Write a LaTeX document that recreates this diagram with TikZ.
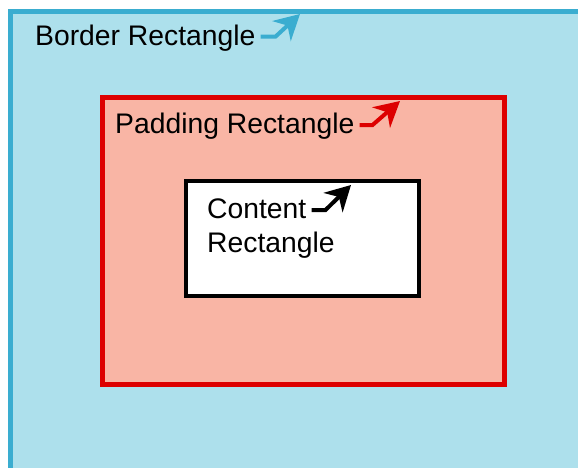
\documentclass[tikz,border=0pt]{standalone}
\usepackage{fontspec}
\setmainfont{Liberation Sans}
\usetikzlibrary{arrows.meta,positioning}
\definecolor{bordfond}{HTML}{ADE0EC}
\definecolor{bordtrait}{HTML}{3AADD0}
\definecolor{padfond}{HTML}{F9B5A5}
\definecolor{padtrait}{HTML}{DD0000}
\tikzset{
  lbl/.style={inner sep=0pt,font=\fontsize{28.3}{34}\selectfont,anchor=base west},
  fleche/.style={line width=4pt,-{Stealth[length=25pt,width=27pt,inset=8pt]}}
}
\begin{document}
\begin{tikzpicture}[x=1pt,y=-1pt]
                \useasboundingbox (0,0) rectangle (578,467);
                \clip (0,0) rectangle (578,467);
                \draw[line width=4.5pt,bordtrait,fill=bordfond] (10.5,11.5) rectangle (600,490);
                \draw[line width=5pt,padtrait,fill=padfond] (102.5,97.5) rectangle (504.5,384.5);
                \draw[line width=4pt,black,fill=white] (186,181) rectangle (419,296);
                \node[lbl] (bord) at (35,45) {Border Rectangle};
                \node[lbl] (pad) at (115,133) {Padding Rectangle};
                \node[lbl] (cont) at (207,218) {Content};
                \node[lbl] (rect) at (207,252) {Rectangle};
                \coordinate (bpointe) at (300,14);
                \coordinate (ppointe) at (400,101);
                \coordinate (cpointe) at (351,185);
                \draw[fleche,bordtrait] ([xshift=5pt,yshift=8.5pt]bord.base east) -- ++(15,0) -- (bpointe);
                \draw[fleche,padtrait] ([xshift=5pt,yshift=8pt]pad.base east) -- ++(13,0) -- (ppointe);
                \draw[fleche,black] ([xshift=5pt,yshift=8pt]cont.base east) -- ++(14,0) -- (cpointe);%Pour le contenu
            \end{tikzpicture}
\end{document}
